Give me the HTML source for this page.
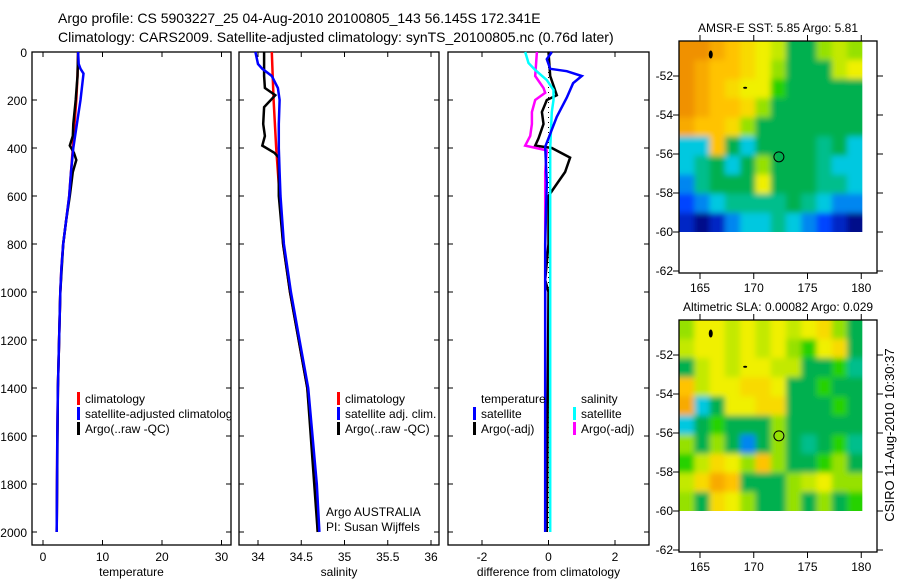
<!DOCTYPE html>
<html><head><meta charset="utf-8">
<style>
body{margin:0;background:#fff;width:900px;height:580px;overflow:hidden}
svg text{font-family:"Liberation Sans",sans-serif;fill:#000}
</style></head>
<body>
<svg id="c" width="900" height="580" xmlns="http://www.w3.org/2000/svg">
<defs><filter id="blur" x="-5%" y="-5%" width="110%" height="110%"><feGaussianBlur stdDeviation="3"/></filter></defs>
<text x="58" y="23" font-size="14">Argo profile: CS 5903227_25 04-Aug-2010 20100805_143 56.145S 172.341E</text>
<text x="58" y="42" font-size="14">Climatology: CARS2009. Satellite-adjusted climatology: synTS_20100805.nc (0.76d later)</text>
<text transform="translate(894,435) rotate(-90)" text-anchor="middle" font-size="13">CSIRO 11-Aug-2010 10:30:37</text>
</svg>
<script>
// ---- data ----
const tDepth=[0,100,200,300,400,500,600,700,800,900,1000,1200,1400,1600,1800,2000];
const tClim=[5.9,5.8,5.6,5.3,5.0,4.7,4.4,3.9,3.4,3.1,2.9,2.7,2.5,2.4,2.35,2.3];
const tSatDepth=[0,50,70,90,200,300,400,500,600,700,800,900,1000,1200,1400,1600,1800,2000];
const tSat=[5.9,6.0,6.3,6.8,6.3,5.7,5.1,4.7,4.4,3.9,3.4,3.1,2.9,2.7,2.5,2.4,2.35,2.3];
const tArgoDepth=[0,100,200,300,350,390,420,450,500,600,700,800,1000,1400,2000];
const tArgo=[5.9,5.8,5.5,5.1,5.0,4.5,5.2,5.6,5.0,4.5,3.9,3.4,2.9,2.5,2.3];
const sDepth=[0,200,400,600,800,1000,1200,1400,1600,1800,2000];
const sClim=[34.16,34.18,34.21,34.25,34.29,34.37,34.47,34.57,34.62,34.67,34.69];
const sSatDepth=[0,50,70,100,150,200,300,400,500,600,800,1000,1200,1400,1600,1800,2000];
const sSat=[33.97,34.0,34.05,34.16,34.23,34.25,34.24,34.24,34.25,34.26,34.30,34.38,34.48,34.58,34.63,34.68,34.71];
const sArgoDepth=[0,100,150,180,230,300,350,390,420,440,600,800,1000,1400,2000];
const sArgo=[34.07,34.07,34.08,34.2,34.07,34.06,34.08,34.05,34.19,34.24,34.24,34.29,34.37,34.57,34.69];
const dTSatDepth=[0,30,70,80,100,130,190,270,395,545,800,1200,2000];
const dTSat=[0.1,-0.05,0.05,0.55,1.0,0.74,0.55,0.25,-0.1,-0.05,-0.1,-0.1,-0.1];
const dTArgoDepth=[0,100,180,200,250,300,360,390,400,440,500,560,600,800,950,1000,2000];
const dTArgo=[0,0.05,0.25,-0.05,-0.2,-0.15,-0.3,-0.4,0.1,0.65,0.5,0.2,0,0,-0.1,0,-0.05];
const dSSatDepth=[0,46,75,117,158,200,250,400,600,2000];
const dSSat=[-0.7,-0.6,-0.4,-0.05,0.15,0.15,0.1,0.05,0.05,0.05];
const dSArgoDepth=[0,100,150,170,200,250,300,350,390,410,500,600,2000];
const dSArgo=[-0.35,-0.4,-0.15,-0.1,-0.4,-0.5,-0.5,-0.55,-0.7,-0.05,-0.1,-0.1,-0.1];
const depthTicks=[0,200,400,600,800,1000,1200,1400,1600,1800,2000];
const tTicks=[0,10,20,30];
const sTicks=[34,34.5,35,35.5,36];
const sTickLabels=["34","34.5","35","35.5","36"];
const dTicks=[-2,0,2];
const latTicks=[-52,-54,-56,-58,-60,-62];
const lonTicks=[165,170,175,180];
const sstGrid=[
[7,7,6.5,6,5.5,5,4.5,3,3,4,4.5,4],
[7,6.5,6,6,5.5,5,4,3,3,3,4.5,5],
[7,6.5,6,5.5,5,5,3.5,3,3,3,3,3],
[7,6.5,6,6,5.5,4,3,3,3,3,3,3],
[6.5,6,6,5.5,4,3,3,3,3,3,3,3],
[2,2,6,3,2,3,3,3,3,2.5,3,2],
[2,2.5,3,2,3,4,3,3,3,2.5,2,2],
[1.5,2.5,3,3,3,5,3,3,3,2.5,2.5,2],
[1,1.5,2,2.5,2.5,2.5,2.5,3,2.5,2,1.5,1.5],
[0.5,0,0.5,1.5,2,2,2.5,2,1.5,1,0.5,0]];
const slaGrid=[
[4,5,5,4.5,5,4.5,5,4.5,5,5.5,4,3],
[4.5,5,5,4.5,5,4.5,5,4,3.5,5,5.5,3],
[3,4.5,5,4.5,5,5,4.5,4.5,3,3,3.5,2.5],
[6,4.5,5,5,5.5,5.5,5,3,3,3.5,3,3],
[6.5,2,3,5,5,5.5,5.5,3,3,3,3.5,3],
[2,3,3.5,3,3,3,4,3,3,3,3,3],
[4,3,4,3,1.5,3,4,3,2.5,3,3.5,2.5],
[3.5,4.5,5.5,5,4,6,4,3,3,3.5,4,3],
[4.5,5.5,6.5,6,3,3,3,4,4.5,5,4,4],
[4,3,5.5,5,4,3,3,4,3,4,3,3.5]];
const floatLon=172.341, floatLat=-56.145;

const svg=document.getElementById('c');
const NS='http://www.w3.org/2000/svg';
function mk(tag,attrs,parent){const e=document.createElementNS(NS,tag);for(const k in attrs)e.setAttribute(k,attrs[k]);(parent||svg).appendChild(e);return e;}
function txt(x,y,s,size,anchor,parent){const t=mk('text',{x:x,y:y,'font-size':size,'text-anchor':anchor||'start'},parent);t.textContent=s;return t;}

const pTop=52,pBot=545;
const yD=d=>52+d*0.24;
function panel(name,x0,x1,xf,ticks,labels,xlabel,showY){
  const g=mk('g',{});
  
  
  const r=mk('rect',{x:x0,y:pTop,width:x1-x0,height:pBot-pTop,fill:'none',stroke:'#000','stroke-width':1.3},g);
  
  
  ticks.forEach((t,i)=>{const x=xf(t);
    mk('line',{x1:x,x2:x,y1:pTop,y2:pTop+5,stroke:'#000'},g);
    mk('line',{x1:x,x2:x,y1:pBot,y2:pBot-5,stroke:'#000'},g);
    const l=txt(x,pBot+16,labels[i],12,'middle',g);
    
    
  });
  depthTicks.forEach(d=>{const y=yD(d);
    mk('line',{x1:x0,x2:x0+5,y1:y,y2:y,stroke:'#000'},g);
    mk('line',{x1:x1,x2:x1-5,y1:y,y2:y,stroke:'#000'},g);
    if(showY){const l=txt(27,y+5,String(d),12,'end',g);
      
      }
  });
  const xl=txt((x0+x1)/2,pBot+31,xlabel,12,'middle',g);
  
  
  return g;
}
function line(g,name,xs,ds,xf,color){
  const pts=xs.map((v,i)=>xf(v).toFixed(1)+','+yD(ds[i]).toFixed(1)).join(' ');
  const p=mk('polyline',{points:pts,fill:'none',stroke:color,'stroke-width':2.5,'stroke-linejoin':'miter'},g);
  
  
}
function legend(g,x,y,items){
  items.forEach((it,i)=>{
    const yy=y+i*15;
    if(it[1]) mk('rect',{x:x,y:yy-10,width:3,height:13,fill:it[1]},g);
    const t=txt(x+8,yy+1,it[0],12,'start',g);
    
    
  });
}

// temperature panel
const xT=t=>43+t*5.95;
const g1=panel('temperature-panel',32,231,xT,tTicks,tTicks.map(String),'temperature',true);
line(g1,'temp-climatology-line',tClim,tDepth,xT,'#ff0000');
line(g1,'temp-argo-line',tArgo,tArgoDepth,xT,'#000');
line(g1,'temp-satellite-line',tSat,tSatDepth,xT,'#0000ff');
const clip1=mk('clipPath',{id:'cp1'});mk('rect',{x:32,y:pTop,width:199,height:pBot-pTop},clip1);
const lg1=mk('g',{'clip-path':'url(#cp1)'},g1);
legend(lg1,77,402,[['climatology','#ff0000'],['satellite-adjusted climatology','#0000ff'],['Argo(..raw -QC)','#000']]);

// salinity panel
const xS=s=>258+(s-34)*86.5;
const g2=panel('salinity-panel',239,439,xS,sTicks,sTickLabels,'salinity',false);
line(g2,'sal-climatology-line',sClim,sDepth,xS,'#ff0000');
line(g2,'sal-argo-line',sArgo,sArgoDepth,xS,'#000');
line(g2,'sal-satellite-line',sSat,sSatDepth,xS,'#0000ff');
legend(g2,337,402,[['climatology','#ff0000'],['satellite adj. clim.','#0000ff'],['Argo(..raw -QC)','#000']]);
const a1=txt(326,516,'Argo AUSTRALIA',12,'start',g2);

const a2=txt(326,531,'PI: Susan Wijffels',12,'start',g2);


// difference panel
const xDf=d=>548.5+d*33.25;
const g3=panel('difference-panel',448,649,xDf,dTicks,dTicks.map(String),'difference from climatology',false);
mk('line',{x1:xDf(0),x2:xDf(0),y1:pTop,y2:yD(2000),stroke:'#000','stroke-dasharray':'1,4'},g3);
line(g3,'diff-temp-argo-line',dTArgo,dTArgoDepth,xDf,'#000');
line(g3,'diff-sal-argo-line',dSArgo,dSArgoDepth,xDf,'#ff00ff');
line(g3,'diff-sal-satellite-line',dSSat,dSSatDepth,xDf,'#00ffff');
line(g3,'diff-temp-satellite-line',dTSat,dTSatDepth,xDf,'#0000ff');
legend(g3,473,402,[['temperature',null],['satellite','#0000ff'],['Argo(-adj)','#000']]);
legend(g3,573,402,[['salinity',null],['satellite','#00ffff'],['Argo(-adj)','#ff00ff']]);

// maps
const cstops=[[0,[0,10,138]],[1,[0,68,255]],[2,[0,200,224]],[2.5,[0,190,140]],[3,[0,176,80]],[3.5,[40,210,0]],[4,[150,225,0]],[5,[240,240,0]],[6,[255,195,0]],[7,[240,145,0]]];
function cmap(v){for(let i=1;i<cstops.length;i++){if(v<=cstops[i][0]){const a=cstops[i-1],b=cstops[i];const f=(v-a[0])/(b[0]-a[0]);return 'rgb('+a[1].map((c,k)=>Math.round(c+(b[1][k]-c)*f)).join(',')+')';}}return 'rgb(240,145,0)';}
function drawMap(name,title,grid,oy,cid){
  const g=mk('g',{});
  
  
  const X=lon=>700+(lon-165)*10.75, Y=lat=>oy+76+(-52-lat)*19.5;
  const lon0=163.05,lon1=180.1,lat0=-50.2,lat1=-60;
  const cp=mk('clipPath',{id:cid});
  mk('rect',{x:X(lon0),y:Y(lat0),width:X(lon1)-X(lon0),height:Y(lat1)-Y(lat0)},cp);
  const outer=mk('g',{'clip-path':'url(#'+cid+')'},g);
  const cells=mk('g',{filter:'url(#blur)'},outer);
  const rows=grid.length,cols=grid[0].length;
  grid.forEach((row,ri)=>row.forEach((v,ci)=>{
    const xa=X(lon0+(lon1-lon0)*ci/cols),xb=X(lon0+(lon1-lon0)*(ci+1)/cols);
    const ya=Y(lat0+(lat1-lat0)*ri/rows),yb=Y(lat0+(lat1-lat0)*(ri+1)/rows);
    const pad=6;
    const ex0=ci===0?-pad:0, ex1=ci===cols-1?pad:0, ey0=ri===0?-pad:0, ey1=ri===rows-1?pad:0;
    const r=mk('rect',{x:xa+ex0,y:ya+ey0,width:xb-xa+0.5-ex0+ex1,height:yb-ya+0.5-ey0+ey1,fill:cmap(v)},cells);
    
    
  }));
  mk('ellipse',{cx:X(166),cy:Y(-50.9),rx:2,ry:4,fill:'#000'},g);
  mk('ellipse',{cx:X(169.2),cy:Y(-52.6),rx:2,ry:1,fill:'#000'},g);
  const c=mk('circle',{cx:X(floatLon),cy:Y(floatLat),r:5,fill:'none',stroke:'#000','stroke-width':1},g);
  
  
  mk('rect',{x:679,y:oy+41,width:198,height:232,fill:'none',stroke:'#000','stroke-width':1.3},g);
  latTicks.forEach(l=>{const y=Y(l);
    mk('line',{x1:673,x2:679,y1:y,y2:y,stroke:'#000'},g);
    mk('line',{x1:877,x2:883,y1:y,y2:y,stroke:'#000'},g);
    const t=txt(673,y+4,String(l),12,'end',g);
    });
  lonTicks.forEach(l=>{const x=X(l);
    mk('line',{x1:x,x2:x,y1:oy+41,y2:oy+35,stroke:'#000'},g);
    mk('line',{x1:x,x2:x,y1:oy+273,y2:oy+279,stroke:'#000'},g);
    const t=txt(x,oy+292,String(l),12,'middle',g);
    });
  const tt=txt(778,oy+32,title,12,'middle',g);
  
}
drawMap('sst-map','AMSR-E SST: 5.85 Argo: 5.81',sstGrid,0,'mc1');
drawMap('sla-map','Altimetric SLA: 0.00082 Argo: 0.029',slaGrid,279,'mc2');
</script>
</body></html>
